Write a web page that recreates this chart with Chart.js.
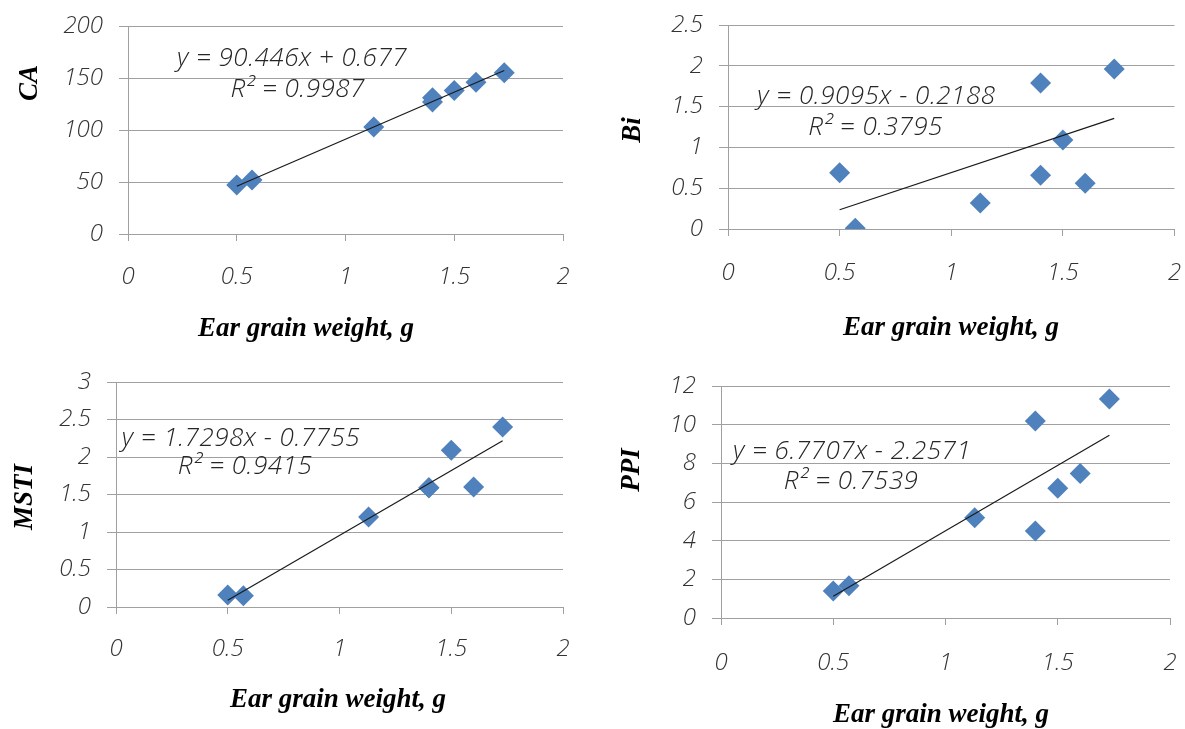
<!DOCTYPE html>
<html>
<head>
<meta charset="utf-8">
<title>Ear grain weight vs CA, Bi, MSTI, PPI</title>
<script src="https://cdn.jsdelivr.net/npm/chart.js@4.4.1/dist/chart.umd.min.js"></script>
<style>
  html, body { margin: 0; padding: 0; background: #fff; }
  #page { position: relative; width: 1185px; height: 729px; overflow: hidden; }
  .panel { position: absolute; }
</style>
</head>
<body>
<div id="page"></div>
<script>
// values (8 genotypes, two of them share x = 1.4)
const earGrainWeight = [0.5, 0.57, 1.13, 1.4, 1.4, 1.5, 1.6, 1.73];
const caValues   = [47, 52, 103, 131, 127, 138, 146, 155];
const biValues   = [0.69, 0.01, 0.32, 1.79, 0.66, 1.09, 0.56, 1.96];
const mstiValues = [0.16, 0.15, 1.2, 1.59, 1.59, 2.09, 1.6, 2.4];
const ppiValues  = [1.4, 1.67, 5.19, 10.19, 4.5, 6.71, 7.48, 11.33];

// linear trend lines, start and end
const trendX    = [0.5, 1.73];
const caTrend   = [45.9, 157.15];
const biTrend   = [0.236, 1.355];
const mstiTrend = [0.089, 2.217];
const ppiTrend  = [1.128, 9.456];

const caEquation   = ['y = 90.446x + 0.677', 'R\u00B2 = 0.9987'];
const biEquation   = ['y = 0.9095x - 0.2188', 'R\u00B2 = 0.3795'];
const mstiEquation = ['y = 1.7298x - 0.7755', 'R\u00B2 = 0.9415'];
const ppiEquation  = ['y = 6.7707x - 2.2571', 'R\u00B2 = 0.7539'];

const xTicks    = [0, 0.5, 1, 1.5, 2];
const caTicks   = [0, 50, 100, 150, 200];
const biTicks   = [0, 0.5, 1, 1.5, 2, 2.5];
const mstiTicks = [0, 0.5, 1, 1.5, 2, 2.5, 3];
const ppiTicks  = [0, 2, 4, 6, 8, 10, 12];

const xTitle = 'Ear grain weight, g';

// page geometry: canvas box, plot area (page px), label spots
const LAYOUT = {
  ca  : { box: [0, 0, 590, 360],     area: [128, 26, 563, 234],   xLabelY: 277, xTitleAt: [306, 329], yTitleAt: [30, 83],   eqAt: [[0.754, 169], [0.78, 138.5]] },
  bi  : { box: [590, 0, 595, 360],   area: [728, 25, 1176, 229],  xLabelY: 273, xTitleAt: [951, 328], yTitleAt: [633, 130], eqAt: [[0.665, 1.62], [0.661, 1.24]] },
  msti: { box: [0, 360, 590, 369],   area: [116, 382, 563, 607],  xLabelY: 649, xTitleAt: [338, 700], yTitleAt: [25, 497],  eqAt: [[0.559, 2.25], [0.577, 1.87]] },
  ppi : { box: [590, 360, 595, 369], area: [721, 386, 1170, 618], xLabelY: 663, xTitleAt: [941, 715], yTitleAt: [632, 470], eqAt: [[0.584, 8.59], [0.579, 7.03]] }
};

const C = {
  marker: '#4f81bd',
  trend : '#1a1a1a',
  grid  : '#a0a0a0',
  tick  : '#333333',
  text  : '#262626',
  title : '#000000'
};

const TICK_FONT  = { family: "'Open Sans', sans-serif", size: 24, style: 'italic', weight: '300', lineHeight: 1.2 };
const EQ_FONT    = "italic 300 26px 'Open Sans', sans-serif";
const TITLE_FONT = "italic bold 27px 'Liberation Serif', serif";
const X_TICK_LEN = 7;
const Y_TICK_LEN = 9;

const panelText = {
  id: 'panelText',
  afterDraw(chart, args, opts) {
    const ctx = chart.ctx;
    const xs = chart.scales.x, ys = chart.scales.y;
    const lay = opts.layout;
    const ox = lay.box[0], oy = lay.box[1];
    ctx.save();
    ctx.textAlign = 'center';
    ctx.textBaseline = 'middle';

    ctx.font = EQ_FONT;
    ctx.fillStyle = C.text;
    if ('letterSpacing' in ctx) ctx.letterSpacing = '0.5px';
    opts.equation.forEach(function(t, i) {
      ctx.fillText(t, xs.getPixelForValue(lay.eqAt[i][0]), ys.getPixelForValue(lay.eqAt[i][1]));
    });
    if ('letterSpacing' in ctx) ctx.letterSpacing = '0px';

    ctx.font = TITLE_FONT;
    ctx.fillStyle = C.title;
    ctx.fillText(xTitle, lay.xTitleAt[0] - ox, lay.xTitleAt[1] - oy);
    ctx.translate(lay.yTitleAt[0] - ox, lay.yTitleAt[1] - oy);
    ctx.rotate(-Math.PI / 2);
    ctx.fillText(opts.yTitle, 0, 0);
    ctx.restore();
  }
};

function tickText(v) { return String(Math.round(v * 100) / 100); }

function makePanel(key, yTitle, values, trend, yTicks, equation) {
  const lay = LAYOUT[key];
  const [bx, by, bw, bh] = lay.box;
  const [L, T, R, B] = lay.area;

  const div = document.createElement('div');
  div.className = 'panel';
  div.style.left = bx + 'px';
  div.style.top = by + 'px';
  div.style.width = bw + 'px';
  div.style.height = bh + 'px';
  const canvas = document.createElement('canvas');
  div.appendChild(canvas);
  document.getElementById('page').appendChild(div);

  const xLabelPad = lay.xLabelY - B - X_TICK_LEN - TICK_FONT.size * TICK_FONT.lineHeight / 2;

  return new Chart(canvas.getContext('2d'), {
    type: 'scatter',
    data: {
      datasets: [
        {
          label          : 'Linear (' + yTitle + ')',
          type           : 'line',
          data           : trendX.map((x, i) => ({ x: x, y: trend[i] })),
          borderColor    : C.trend,
          borderWidth    : 1.2,
          pointRadius    : 0,
          fill           : false,
          order          : 0
        },
        {
          label          : yTitle,
          data           : earGrainWeight.map((x, i) => ({ x: x, y: values[i] })),
          pointStyle     : 'rectRot',
          pointRadius    : 10.5,
          backgroundColor: C.marker,
          borderColor    : C.marker,
          borderWidth    : 0,
          order          : 1
        }
      ]
    },
    options: {
      responsive         : true,
      maintainAspectRatio: false,
      animation          : false,
      layout: { padding: { top: T - by, right: bx + bw - R, left: 0, bottom: 0 } },
      plugins: {
        legend   : { display: false },
        tooltip  : { enabled: false },
        panelText: { layout: lay, yTitle: yTitle, equation: equation }
      },
      scales: {
        x: {
          type : 'linear',
          min  : xTicks[0],
          max  : xTicks[xTicks.length - 1],
          grid : { drawOnChartArea: false, color: C.grid, tickLength: X_TICK_LEN },
          border: { display: true, color: C.grid, width: 1 },
          ticks: { stepSize: xTicks[1] - xTicks[0], color: C.tick, font: TICK_FONT, padding: xLabelPad, maxRotation: 0, callback: tickText },
          afterFit: function(s) {
            s.height = by + bh - B;
            // tick padding is meant vertically only; keep plot edges where they are
            s.paddingLeft = 0;
            s.paddingRight = 0;
          }
        },
        y: {
          type : 'linear',
          min  : yTicks[0],
          max  : yTicks[yTicks.length - 1],
          grid : { color: C.grid, lineWidth: 1, tickLength: Y_TICK_LEN },
          border: { display: true, color: C.grid, width: 1 },
          ticks: { stepSize: yTicks[1] - yTicks[0], color: C.tick, font: TICK_FONT, padding: 16, callback: tickText },
          afterFit: function(s) {
            s.width = L - bx;
            s.paddingTop = 0;
            s.paddingBottom = 0;
          }
        }
      }
    },
    plugins: [panelText]
  });
}

makePanel('ca',   'CA',   caValues,   caTrend,   caTicks,   caEquation);
makePanel('bi',   'Bi',   biValues,   biTrend,   biTicks,   biEquation);
makePanel('msti', 'MSTI', mstiValues, mstiTrend, mstiTicks, mstiEquation);
makePanel('ppi',  'PPI',  ppiValues,  ppiTrend,  ppiTicks,  ppiEquation);
</script>
</body>
</html>
